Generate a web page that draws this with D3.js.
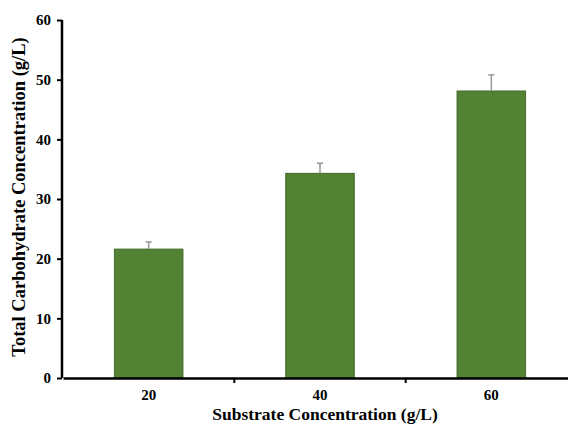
<!DOCTYPE html>
<html>
<head>
<meta charset="utf-8">
<script src="https://cdn.jsdelivr.net/npm/d3@7"></script>
<style>
  body { margin: 0; background: #fff; }
  text { font-family: "Liberation Serif", "Times New Roman", serif; font-weight: bold; }
</style>
</head>
<body>
<script>
// chart data
var categories = ["20", "40", "60"];
var values = [21.6, 34.3, 48.1];
var errors = [1.2, 1.7, 2.7];
var yTicks = [0, 10, 20, 30, 40, 50, 60];

var width = 568, height = 426;
var margin = {top: 20, left: 62, bottom: 48, right: -9};

var svg = d3.select("body").append("svg")
  .attr("width", width)
  .attr("height", height);

var x = d3.scaleBand()
  .domain(categories)
  .range([margin.left + 1, width - margin.right])
  .paddingInner(0.6)
  .paddingOuter(0.3);

var y = d3.scaleLinear()
  .domain([0, 60])
  .range([height - margin.bottom, margin.top]);

var data = categories.map(function(c, i) { return {cat: c, v: values[i], e: errors[i]}; });

// bars
svg.selectAll("rect.bar").data(data)
  .enter().append("rect")
  .attr("class", "bar")
  .attr("x", function(d) { return x(d.cat); })
  .attr("y", function(d) { return y(d.v); })
  .attr("width", x.bandwidth())
  .attr("height", function(d) { return y(0) - y(d.v); })
  .attr("fill", "#548235")
  .attr("stroke", "#3f6b26")
  .attr("stroke-width", 1);

// error bars
var eb = svg.selectAll("g.err").data(data).enter().append("g").attr("class", "err");
eb.append("line")
  .attr("x1", function(d) { return x(d.cat) + x.bandwidth() / 2; })
  .attr("x2", function(d) { return x(d.cat) + x.bandwidth() / 2; })
  .attr("y1", function(d) { return y(d.v); })
  .attr("y2", function(d) { return y(d.v + d.e); })
  .attr("stroke", "#999")
  .attr("stroke-width", 1.5);
eb.append("line")
  .attr("x1", function(d) { return x(d.cat) + x.bandwidth() / 2 - 3; })
  .attr("x2", function(d) { return x(d.cat) + x.bandwidth() / 2 + 3; })
  .attr("y1", function(d) { return y(d.v + d.e); })
  .attr("y2", function(d) { return y(d.v + d.e); })
  .attr("stroke", "#999")
  .attr("stroke-width", 1.5);

// y axis
var yAxis = svg.append("g")
  .attr("transform", "translate(" + margin.left + ",0)")
  .call(d3.axisLeft(y).tickValues(yTicks).tickSize(5).tickPadding(6));
yAxis.select(".domain").attr("stroke", "#000").attr("stroke-width", 2.5).attr("d", "M0," + y(60) + "V" + y(0));
yAxis.selectAll(".tick line").attr("stroke", "#000").attr("stroke-width", 2);
yAxis.selectAll("text").attr("font-size", 15).attr("fill", "#000")
  .style("font-family", "Liberation Serif").style("font-weight", "bold");

// x axis
var xAxis = svg.append("g")
  .attr("transform", "translate(0," + y(0) + ")")
  .call(d3.axisBottom(x).tickSize(0).tickPadding(11));
xAxis.select(".domain").attr("stroke", "#000").attr("stroke-width", 2.5);
xAxis.selectAll("text").attr("font-size", 15).attr("fill", "#000")
  .style("font-family", "Liberation Serif").style("font-weight", "bold");
// category separator ticks
var step = x.step();
var bounds = categories.slice(1).map(function(c) { return x(c) - step * x.paddingInner() / 2; });
xAxis.selectAll("line.sep").data(bounds).enter().append("line")
  .attr("class", "sep")
  .attr("x1", function(d) { return d; })
  .attr("x2", function(d) { return d; })
  .attr("y1", 0).attr("y2", 5)
  .attr("stroke", "#000").attr("stroke-width", 2);

// axis titles
svg.append("text")
  .attr("x", 325).attr("y", 420)
  .attr("text-anchor", "middle")
  .attr("font-size", 17.5)
  .text("Substrate Concentration (g/L)");

svg.append("text")
  .attr("transform", "translate(25,197) rotate(-90)")
  .attr("text-anchor", "middle")
  .attr("font-size", 18.5)
  .text("Total Carbohydrate Concentration (g/L)");
</script>
</body>
</html>
